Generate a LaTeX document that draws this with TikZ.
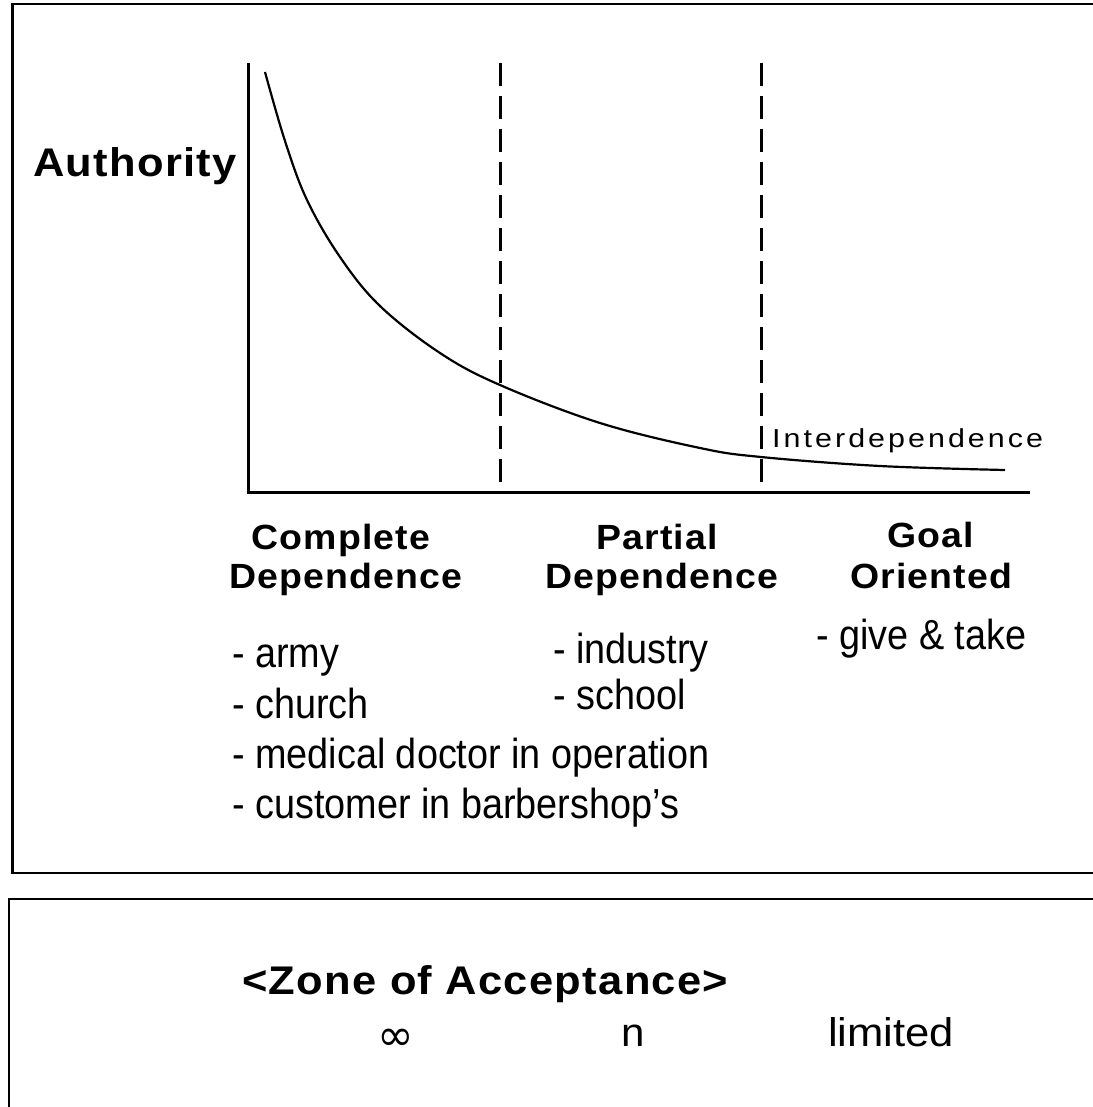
\documentclass[tikz,border=0pt]{standalone}
\usepackage{fontspec}
\setmainfont{Liberation Sans}
\newfontfamily\symbolfam{DejaVu Sans}
\newcommand\widetext[1]{\scalebox{1.07}[1]{#1}}
\newcommand\widertext[1]{\scalebox{1.087}[1]{#1}}
\newcommand\narrowtext[1]{\scalebox{0.9}[1]{#1}}
\begin{document}
\begin{tikzpicture}[x=1pt,y=-1pt,
  frame/.style={draw=black,line width=2.4pt},
  axisline/.style={draw=black,line width=3pt},
  divider/.style={draw=black,line width=3pt,dash pattern=on 23pt off 10pt},
  curveline/.style={draw=black,line width=2.2pt},
  heading/.style={inner sep=0pt,anchor=base,font=\fontsize{35}{39}\selectfont\bfseries\addfontfeature{LetterSpace=3}},
  item/.style={inner sep=0pt,anchor=base west,font=\fontsize{42}{45}\selectfont},
  big/.style={inner sep=0pt,anchor=base west,font=\fontsize{40}{45}\selectfont\bfseries\addfontfeature{LetterSpace=3}},
  low/.style={inner sep=0pt,font=\fontsize{40}{45}\selectfont}]
\useasboundingbox[fill=white] (0,0) rectangle (1092,1107);
% frames
\draw[frame] (12.5,4) rectangle (1110,873);
\draw[frame] (9,899) rectangle (1110,1125);
% axes
\coordinate (ytop) at (248,63);
\coordinate (origin) at (248,492);
\coordinate (xend) at (1030,492);
\draw[axisline] (ytop) -- (origin) -- (xend);
% dividers
\coordinate (d1t) at (500,63);
\coordinate (d1b) at (500,492);
\coordinate (d2t) at (761,63);
\coordinate (d2b) at (761,492);
\draw[divider] (d1t) -- (d1b);
\draw[divider] (d2t) -- (d2b);
% curve
\draw[curveline] plot[smooth,tension=0.6] coordinates {(265,72) (285,141) (307,200) (340,257) (380,306) (440,353) (500,385) (600,423) (700,448) (761,457) (880,466) (1005,470)};
% labels
\node[big] (auth) at (33,177) {\widertext{Authority}};
\node[inner sep=0pt,anchor=base west,font=\fontsize{26}{30}\selectfont\addfontfeature{LetterSpace=10}] (inter) at (772,447) {\scalebox{1.17}[1]{Interdependence}};
\node[heading] (cd1) at (341,549) {\widetext{Complete}};
\node[heading] (cd2) at (346,588) {\widetext{Dependence}};
\node[heading] (pd1) at (657,549) {\widetext{Partial}};
\node[heading] (pd2) at (662,588) {\widetext{Dependence}};
\node[heading] (go1) at (931,547) {\widetext{Goal}};
\node[heading] (go2) at (931,588) {\widetext{Oriented}};
\node[item] (i1) at (232,667) {\narrowtext{- army}};
\node[item] (i2) at (232,718) {\narrowtext{- church}};
\node[item] (i3) at (232,768) {\narrowtext{- medical doctor in operation}};
\node[item] (i4) at (232,818) {\narrowtext{- customer in barbershop’s}};
\node[item] (p1) at (553,663) {\narrowtext{- industry}};
\node[item] (p2) at (553,709) {\narrowtext{- school}};
\node[item] (g1) at (816,649) {\narrowtext{- give \& take}};
% zone of acceptance
\node[big] (zone) at (242,994) {\widertext{<Zone of Acceptance>}};
\node[inner sep=0pt,font=\fontsize{44}{46}\selectfont\symbolfam] (inf) at (396,1040) {∞};
\node[low,anchor=base] (n) at (633,1046) {\scalebox{1.05}[1]{n}};
\node[low,anchor=base west] (lim) at (828,1046) {\scalebox{1.09}[1]{limited}};
\end{tikzpicture}
\end{document}
